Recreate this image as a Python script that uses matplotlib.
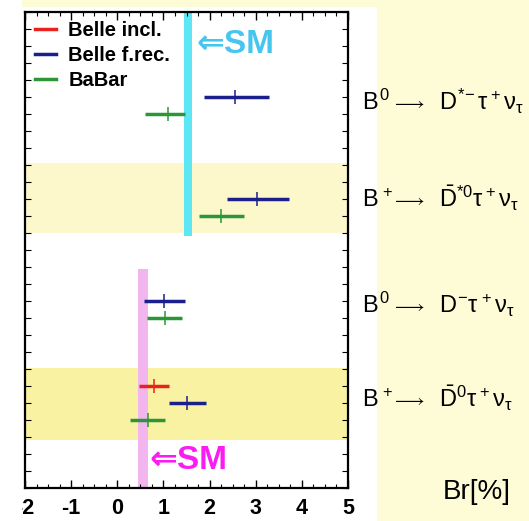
import matplotlib
matplotlib.use("Agg")
import matplotlib.pyplot as plt
from matplotlib.lines import Line2D
from matplotlib.patches import Rectangle
from matplotlib.ticker import MultipleLocator, FixedLocator, FixedFormatter
from matplotlib.transforms import blended_transform_factory, Bbox, TransformedBbox
from matplotlib import font_manager

# ---- data -------------------------------------------------------------
experiments = ["Belle incl.", "Belle f.rec.", "BaBar"]
exp_colors = ["#e8221e", "#1b1f8c", "#2b9637"]

# decay channels: initial state, final state
channel_initial = [r"$B^0$", r"$B^+$", r"$B^0$", r"$B^+$"]
channel_final = [
    r"$D^{*\!-}\tau^+\nu_\tau$",
    r"$\bar{D}^{*0}\tau^+\nu_\tau$",
    r"$D^{-}\tau^+\nu_\tau$",
    r"$\bar{D}^{0}\tau^+\nu_\tau$",
]

# one entry per measurement
meas_channel = [0, 0, 1, 1, 2, 2, 3, 3, 3]
meas_exp = ["Belle f.rec.", "BaBar",
            "Belle f.rec.", "BaBar",
            "Belle f.rec.", "BaBar",
            "Belle incl.", "Belle f.rec.", "BaBar"]
meas_value = [2.55, 1.10, 3.03, 2.25, 1.01, 1.04, 0.80, 1.50, 0.67]
meas_err_lo = [0.67, 0.50, 0.65, 0.47, 0.43, 0.39, 0.33, 0.38, 0.39]
meas_err_hi = [0.74, 0.37, 0.70, 0.50, 0.46, 0.36, 0.32, 0.43, 0.37]

# Standard Model expectations (band edges, %)
sm_dstar = [1.45, 1.62]
sm_d = [0.45, 0.67]

x_ticks = [-2, -1, 0, 1, 2, 3, 4, 5]
x_ticklabels = ["-2", "-1", "0", "1", "2", "3", "4", "5"]

# ---- style --------------------------------------------------------------
plt.rcParams["font.family"] = ["Liberation Sans", "DejaVu Sans"]
plt.rcParams["mathtext.fontset"] = "custom"
plt.rcParams["mathtext.rm"] = "Liberation Sans"
plt.rcParams["mathtext.it"] = "Liberation Sans"
plt.rcParams["mathtext.bf"] = "Liberation Sans:bold"
plt.rcParams["mathtext.sf"] = "Liberation Sans"

installed = {f.name for f in font_manager.fontManager.ttflist}
tick_family = ["Liberation Sans Narrow", "Liberation Sans"] \
    if "Liberation Sans Narrow" in installed else ["Liberation Sans"]

W, H = 529, 521
fig = plt.figure(figsize=(W / 100, H / 100), dpi=100, facecolor="white")

# page background
bg_yellow = "#fefcd7"
fig.patches.append(Rectangle((22 / W, (H - 7) / H), 1, 1, transform=fig.transFigure,
                             facecolor=bg_yellow, edgecolor="none", zorder=-10))
fig.patches.append(Rectangle((377 / W, 0), 1, 1, transform=fig.transFigure,
                             facecolor=bg_yellow, edgecolor="none", zorder=-10))

ax = fig.add_axes([25 / W, 33 / H, 323 / W, 476 / H])
ax.set_facecolor("white")
ax.set_xlim(-2, 5)
ax.set_ylim(0, 28)

# row layout: top row of each channel block
channel_top_row = [23, 17, 11, 6]
band_rows = {1: (15.0, 19.1), 3: (2.82, 7.06)}
band_colors = {1: "#fcf8cc", 3: "#f9f2a2"}
for ch, (y0, y1) in band_rows.items():
    ax.axhspan(y0, y1, facecolor=band_colors[ch], edgecolor="none", zorder=0)

# SM bands
ax.fill_betweenx([14.85, 28], sm_dstar[0], sm_dstar[1], color="#5de6f4", lw=0, zorder=1)
ax.fill_betweenx([0, 12.9], sm_d[0], sm_d[1], color="#f3b5ee", lw=0, zorder=1)

# measurements
counter = {}
for ch, ex, v, lo, hi in zip(meas_channel, meas_exp, meas_value, meas_err_lo, meas_err_hi):
    k = counter.get(ch, 0)
    counter[ch] = k + 1
    row = channel_top_row[ch] - k
    col = exp_colors[experiments.index(ex)]
    ax.errorbar([v], [row], xerr=[[lo], [hi]], fmt="none", ecolor=col,
                elinewidth=2.5, capsize=0, zorder=3)
    ax.plot([v], [row], marker="|", ms=9.5, mew=1.1, color=col, zorder=4)

# SM annotations
ax.text(1.72, 26.1, "\u21d0SM", color="#46c6ee", fontsize=24, fontweight="bold",
        va="center", ha="left", family=["Liberation Sans", "DejaVu Sans"], zorder=5)
ax.text(0.70, 1.6, "\u21d0SM", color="#fa1cf0", fontsize=24, fontweight="bold",
        va="center", ha="left", family=["Liberation Sans", "DejaVu Sans"], zorder=5)

# legend
handles = [Line2D([], [], color=c, lw=2.5) for c in exp_colors]
leg = ax.legend(handles, experiments, loc="upper left", bbox_to_anchor=(0.031, 0.982),
                frameon=False, borderpad=0, borderaxespad=0, handlelength=1.05,
                handletextpad=0.6, labelspacing=0.3,
                prop={"family": "Liberation Sans", "weight": "bold", "size": 14.5})

# channel labels on the right: initial state, arrow, final state
trans = blended_transform_factory(fig.transFigure, ax.transData)
label_baseline = [22.24, 16.53, 10.29, 4.76]
for ini, fin, y in zip(channel_initial, channel_final, label_baseline):
    ax.text(362 / W, y, ini, transform=trans, fontsize=17, va="baseline", ha="left",
            clip_on=False)
    ax.text(391 / W, y + 0.05, r"$\longrightarrow$", transform=trans, fontsize=13.5,
            va="baseline", ha="left", clip_on=False)
    ax.text(439 / W, y, fin, transform=trans, fontsize=17, va="baseline", ha="left",
            clip_on=False)
fig.text(443 / W, (H - 492) / H, "Br[%]", fontsize=20, va="center", ha="left")

# axes and ticks
ax.xaxis.set_major_locator(FixedLocator(x_ticks))
ax.xaxis.set_major_formatter(FixedFormatter(x_ticklabels))
ax.xaxis.set_minor_locator(MultipleLocator(0.25))
ax.yaxis.set_major_locator(MultipleLocator(1))
ax.yaxis.set_major_formatter(FixedFormatter([]))
ax.tick_params(axis="x", which="major", direction="in", length=6, width=1.0,
               top=True, bottom=True, pad=7)
ax.tick_params(axis="x", which="minor", direction="in", length=3, width=0.8,
               top=True, bottom=True)
ax.tick_params(axis="y", which="major", direction="in", length=4, width=0.8,
               left=True, right=True, labelleft=False)
for lab in ax.get_xticklabels():
    lab.set_fontweight("bold")
    lab.set_fontsize(15.5)
    lab.set_family(tick_family)
for s in ax.spines.values():
    s.set_linewidth(1.6)
ax.set_zorder(1)

# clip the leftmost tick label at the page edge
fig.canvas.draw()
clip = TransformedBbox(Bbox([[22 / W, 0], [1, 1]]), fig.transFigure)
first = ax.get_xticklabels()[0]
first.set_clip_box(clip)
first.set_clip_on(True)

fig.savefig("out.png", dpi=100, facecolor=fig.get_facecolor())
